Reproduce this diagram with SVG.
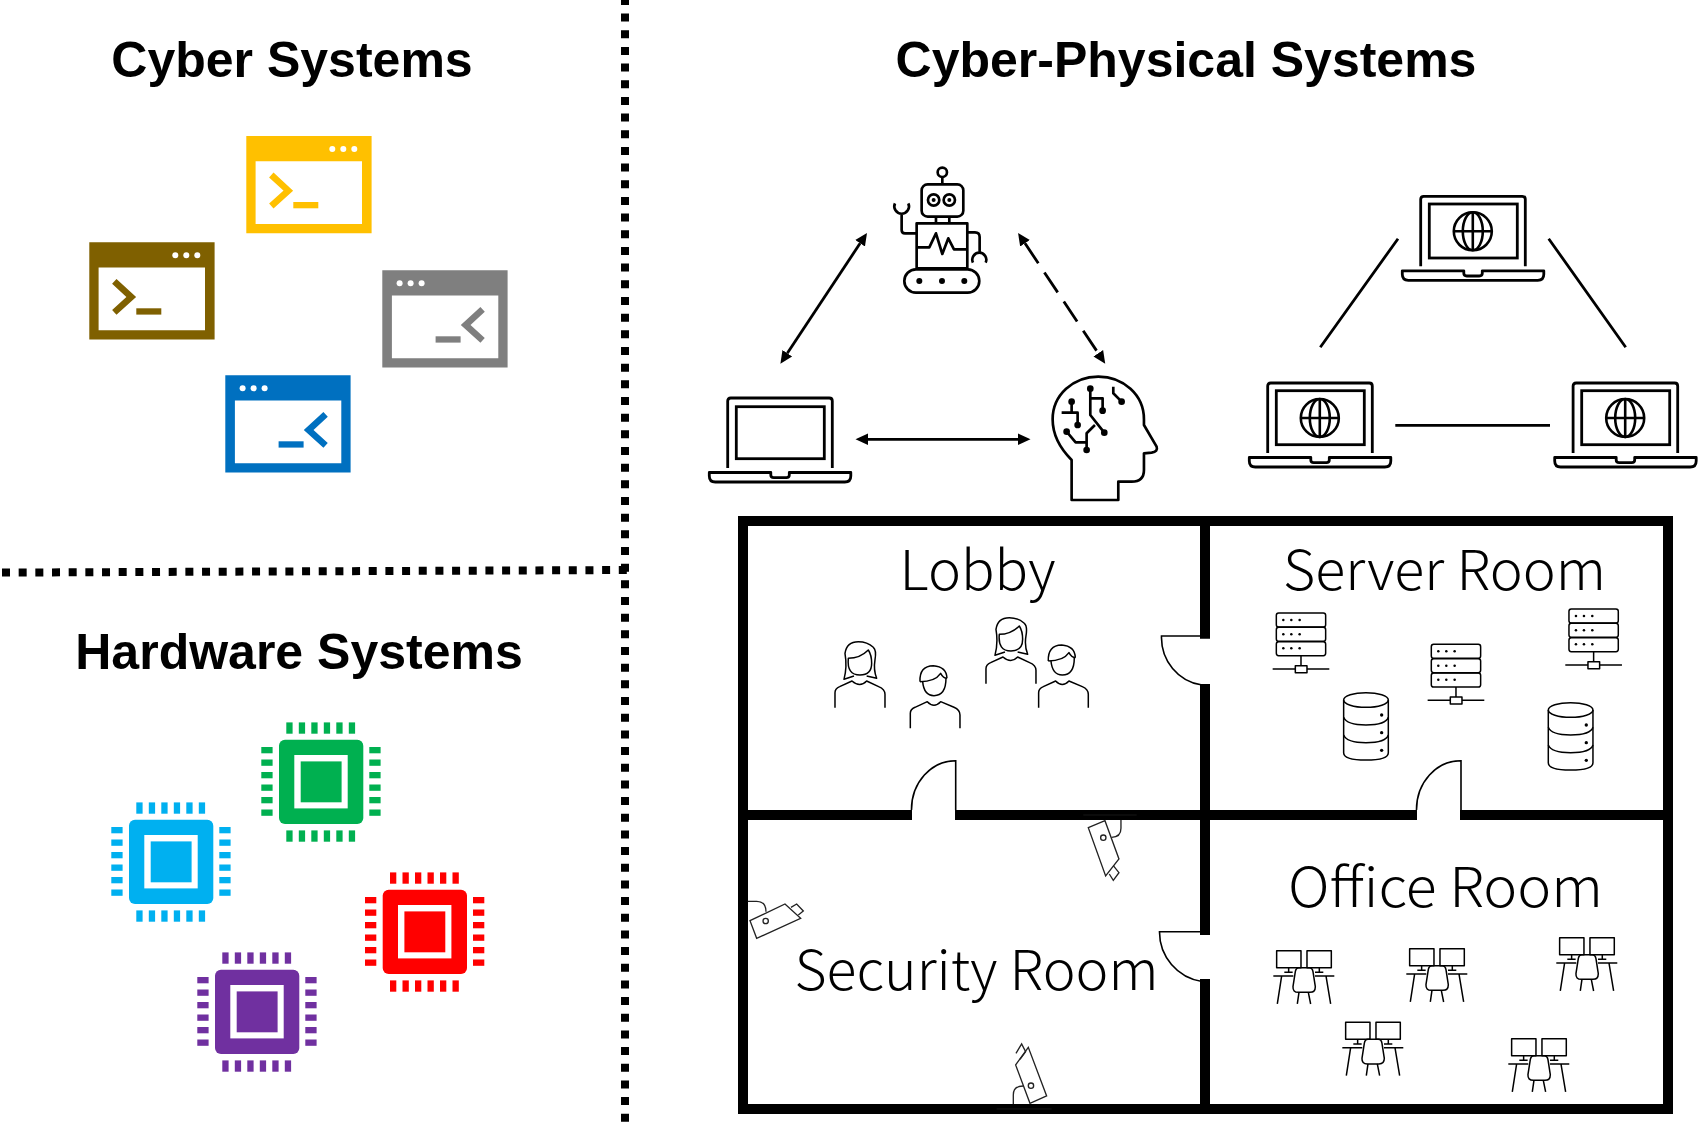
<svg xmlns="http://www.w3.org/2000/svg" xmlns:xlink="http://www.w3.org/1999/xlink" width="1700" height="1126" viewBox="0 0 1700 1126">
<style>
.title{font-family:"Liberation Sans",Arial,sans-serif;font-weight:700;font-size:50px;fill:#000}
.room{font-family:"Noto Sans CJK SC","Noto Sans",sans-serif;font-weight:300;font-size:55px;fill:#000}
.dot{fill:none;stroke:#000;stroke-width:8;stroke-dasharray:8 8.67}
.wall{fill:none;stroke:#000;stroke-width:10}
.door{fill:none;stroke:#000;stroke-width:1.6}
.ico{fill:none;stroke:#000;stroke-width:8;stroke-linejoin:round}
.thin{fill:none;stroke:#000;stroke-width:4.5;stroke-linejoin:round}
.cam{fill:none;stroke:#222;stroke-width:4;stroke-linejoin:miter}
.wl{stroke:#222;stroke-width:2;fill:none}
.f{fill:#000;stroke:none}
.con{fill:none;stroke:#000;stroke-width:2.8}
</style>
<defs>
<marker id="ah" markerUnits="userSpaceOnUse" markerWidth="14" markerHeight="14" refX="0" refY="7" orient="auto-start-reverse"><path d="M0 1.2L12.5 7L0 12.8z" fill="#000"/></marker>
<g id="term"><path fill-rule="evenodd" d="M0 0H125.3V97.3H0zM9.3 25.3V88H115.7V25.3z"/>
<circle cx="86" cy="13" r="3" fill="#fff"/><circle cx="97" cy="13" r="3" fill="#fff"/><circle cx="108" cy="13" r="3" fill="#fff"/>
<path d="M25 39L42 54.7L25 70" fill="none" stroke="currentColor" stroke-width="6.5"/><rect x="47" y="66" width="25" height="6.3"/></g>
<g id="chip"><rect width="84.3" height="84.3" rx="6"/><rect x="15.3" y="15.3" width="53.4" height="53.4" fill="#fff"/><rect x="21.7" y="21.7" width="40.9" height="40.9"/>
<g id="pt"><rect x="7.3" y="-17.3" width="6.3" height="11.3"/><rect x="19.8" y="-17.3" width="6.3" height="11.3"/><rect x="32.3" y="-17.3" width="6.3" height="11.3"/><rect x="44.8" y="-17.3" width="6.3" height="11.3"/><rect x="57.3" y="-17.3" width="6.3" height="11.3"/><rect x="69.8" y="-17.3" width="6.3" height="11.3"/></g>
<use xlink:href="#pt" href="#pt" y="108"/>
<use xlink:href="#pt" href="#pt" transform="rotate(90 42.15 42.15)"/><use xlink:href="#pt" href="#pt" y="108" transform="rotate(90 42.15 42.15)"/></g>
<g id="lapbase" class="ico" style="stroke-width:2.8"><path d="M19.4 71V4Q19.4 1 22.4 1H121Q124 1 124 4V71"/><path d="M1 75.5H62.5V78Q62.5 80.7 65.5 80.7H78Q81 80.7 81 78V75.5H142.5V79Q142.5 85 136.5 85H7Q1 85 1 79z"/></g>
<g id="laptop"><use xlink:href="#lapbase" href="#lapbase"/><rect x="28" y="9.7" width="88" height="52" fill="none" stroke="#000" stroke-width="2.8"/></g>
<g id="weblap"><use xlink:href="#lapbase" href="#lapbase" transform="translate(0 1)"/><rect x="28" y="9.7" width="88" height="54" fill="none" stroke="#000" stroke-width="2.8"/>
<g fill="none" stroke="#000" stroke-width="2.6"><circle cx="71.5" cy="37" r="19"/><ellipse cx="71.5" cy="37" rx="10" ry="19"/><path d="M71.5 18V56M52.5 37H90.5"/></g></g>
<g id="man" class="thin"><path d="M541 655V610Q541 598 555 592L592 575Q612 596 632 575L672 592Q690 600 690 615V655"/><path d="M570 515Q568 468 610 467Q650 470 651 505"/><path d="M570 515Q615 515 632 490Q640 505 651 505"/><path d="M578 515Q582 557 612 557Q648 557 648 505"/></g>
<g id="woman" class="thin"><path d="M315 593V548Q315 536 329 530L366 513Q390 534 410 513L446 530Q465 538 465 553V593"/><path d="M355 445Q390 445 415 420Q425 435 425 460Q425 495 390 495Q350 495 355 445z"/><path d="M372 498L342 508Q352 470 345 430Q350 395 385 395Q412 395 430 412Q440 420 435 450Q430 480 440 505L410 498"/></g>
<g id="srv" class="thin"><rect x="259" y="309" width="148" height="42" rx="7"/><rect x="259" y="352" width="148" height="42" rx="7"/><rect x="259" y="395" width="148" height="42" rx="7"/><path d="M333 437V467M248 477H316M351 477H418"/><rect x="316" y="467" width="35" height="21"/>
<g class="f"><circle cx="280" cy="330" r="3.8"/><circle cx="304" cy="330" r="3.8"/><circle cx="329" cy="330" r="3.8"/><circle cx="280" cy="373" r="3.8"/><circle cx="304" cy="373" r="3.8"/><circle cx="329" cy="373" r="3.8"/><circle cx="280" cy="415" r="3.8"/><circle cx="304" cy="415" r="3.8"/><circle cx="329" cy="415" r="3.8"/></g></g>
<g id="db" class="thin"><ellipse cx="528" cy="570" rx="67" ry="22"/><path d="M461 570V728Q461 750 528 750Q595 750 595 728V570"/><path d="M461 622Q470 645 528 645Q588 645 595 622M461 675Q470 698 528 698Q588 698 595 675"/><g class="f"><circle cx="575" cy="615" r="5"/><circle cx="575" cy="668" r="5"/><circle cx="575" cy="721" r="5"/></g></g>
<g id="desk" class="thin"><rect x="260" y="452" width="73" height="51"/><rect x="351" y="452" width="73" height="51"/><path d="M296 503V517M283 517H308M388 503V517M375 517H400M250 528H310M375 528H433M275 528L262 612M408 528L422 612M327 577L322 612M355 577L362 612"/><path d="M327 503H358Q367 503 369 515L376 560Q376 577 360 577H325Q308 577 309 560L316 515Q318 503 327 503z"/></g>
</defs>
<g id="titles"><text id="t-cyber" class="title" x="292" y="77" text-anchor="middle">Cyber Systems</text><text id="t-cps" class="title" x="1186" y="77" text-anchor="middle">Cyber-Physical Systems</text><text id="t-hw" class="title" x="299" y="669" text-anchor="middle">Hardware Systems</text></g>
<g id="dividers"><path class="dot" d="M625 -3.1V1122"/><path class="dot" d="M2 572.6L628 570"/></g>
<g id="term-yellow" fill="#FFC000" color="#FFC000" transform="translate(246.3 136)"><use xlink:href="#term" href="#term"/></g>
<g id="term-brown" fill="#7F6000" color="#7F6000" transform="translate(89.3 242.3)"><use xlink:href="#term" href="#term"/></g>
<g id="term-gray" fill="#7F7F7F" color="#7F7F7F" transform="translate(507.6 270.3) scale(-1 1)"><use xlink:href="#term" href="#term"/></g>
<g id="term-blue" fill="#0070C0" color="#0070C0" transform="translate(350.6 375.3) scale(-1 1)"><use xlink:href="#term" href="#term"/></g>
<g id="chip-green" fill="#00B050" transform="translate(279 739.7)"><use xlink:href="#chip" href="#chip"/></g>
<g id="chip-blue" fill="#00B0F0" transform="translate(129 819.7)"><use xlink:href="#chip" href="#chip"/></g>
<g id="chip-red" fill="#FF0000" transform="translate(382.7 889.7)"><use xlink:href="#chip" href="#chip"/></g>
<g id="chip-purple" fill="#7030A0" transform="translate(215 969.7)"><use xlink:href="#chip" href="#chip"/></g>
<g id="robot" transform="translate(690 150) scale(.3333)" class="ico"><circle cx="757" cy="67" r="14"/><path d="M757 81V103"/><rect x="695" y="103" width="125" height="97" rx="18"/><circle cx="731" cy="150" r="17"/><circle cx="778" cy="150" r="17"/><circle class="f" cx="731" cy="150" r="6"/><circle class="f" cx="778" cy="150" r="6"/><path d="M738 200V220M778 200V220"/><rect x="680" y="220" width="152" height="135"/><path d="M680 292H718L738 250L757 312L775 265L792 298H832"/><path d="M680 250H645Q635 250 635 240V192M615 160A22 22 0 1 0 655 160"/><path d="M832 247H855Q869 247 869 261V305M849 338A21 21 0 1 1 887 338"/><rect x="643" y="358" width="225" height="70" rx="35"/><circle class="f" cx="688" cy="393" r="9"/><circle class="f" cx="756" cy="393" r="9"/><circle class="f" cx="823" cy="393" r="9"/></g>
<g id="laptop-plain" transform="translate(708.3 397)"><use xlink:href="#laptop" href="#laptop"/></g>
<g id="brain" transform="translate(690 150) scale(.3333)" class="ico"><path d="M1145 1050V930C1110 895 1088 855 1088 808C1088 735 1150 680 1225 680C1300 680 1362 735 1362 808V825L1400 890Q1405 905 1385 908L1362 910V960Q1362 995 1325 995H1285V1050z"/><path d="M1201 716V795L1243 848M1201 745H1238V782M1270 710V730L1295 755M1145 755V785M1115 788H1163V825M1130 845L1157 877H1190V900M1190 877V850L1215 825"/><g class="f"><circle cx="1201" cy="716" r="10"/><circle cx="1243" cy="848" r="10"/><circle cx="1238" cy="782" r="10"/><circle cx="1295" cy="755" r="10"/><circle cx="1145" cy="755" r="10"/><circle cx="1163" cy="825" r="10"/><circle cx="1130" cy="845" r="10"/><circle cx="1190" cy="900" r="10"/></g></g>
<g id="web-top" transform="translate(1401.3 194.3)"><use xlink:href="#weblap" href="#weblap"/></g>
<g id="web-left" transform="translate(1248.3 381)"><use xlink:href="#weblap" href="#weblap"/></g>
<g id="web-right" transform="translate(1553.7 381)"><use xlink:href="#weblap" href="#weblap"/></g>
<g id="connectors">
<path class="con" d="M860.1 243.3L787.3 353.3" marker-start="url(#ah)" marker-end="url(#ah)"/>
<path class="con" d="M1025 243.3L1098.3 353.3" stroke-dasharray="24 11" marker-start="url(#ah)" marker-end="url(#ah)"/>
<path class="con" d="M868 439.3H1018" marker-start="url(#ah)" marker-end="url(#ah)"/>
<path class="con" d="M1398 238.7L1320.3 347.3M1548.7 238.7L1625.7 347.3M1395.3 425.3H1550"/>
</g>
<g id="floorplan">
<rect class="wall" x="743" y="521" width="925" height="588"/>
<path class="wall" d="M1205 516V638.7M1205 684V935M1205 979V1104M748 815H912M955 815H1417M1460 815H1663"/>
<path class="door" d="M1205 636H1161.5A47 48 0 0 0 1202 685M1205 931.7H1159.5A50 50 0 0 0 1202 981.5M955.7 810V760.7A44 49 0 0 0 911.5 810M1461 810V760.7A44 49 0 0 0 1416.5 810"/>
</g>
<g id="room-lobby"><text class="room" x="899.5" y="590" textLength="156" lengthAdjust="spacingAndGlyphs">Lobby</text>
<g transform="translate(730 510) scale(.3333)"><use xlink:href="#woman" href="#woman"/><use xlink:href="#man" href="#man"/><use xlink:href="#woman" href="#woman" x="453" y="-72"/><use xlink:href="#man" href="#man" x="385" y="-62"/></g></g>
<g id="room-server"><text class="room" x="1283" y="590" textLength="323" lengthAdjust="spacingAndGlyphs">Server Room</text>
<g transform="translate(1190 510) scale(.3333)"><use xlink:href="#srv" href="#srv"/><use xlink:href="#srv" href="#srv" x="465" y="94"/><use xlink:href="#srv" href="#srv" x="878" y="-12"/><use xlink:href="#db" href="#db"/><use xlink:href="#db" href="#db" x="614" y="30"/></g></g>
<g id="room-security"><text class="room" x="794.5" y="990" textLength="364" lengthAdjust="spacingAndGlyphs">Security Room</text>
<g transform="translate(730 800) scale(.3333)"><path class="wl" d="M1060 45H1220M800 927H965"/>
<g class="cam"><path d="M1075 83L1125 62L1167 177L1127 228z"/><path d="M1150 197L1167 218L1150 241L1138 222"/><circle cx="1120" cy="113" r="8"/><path d="M1173 60V85Q1173 112 1145 112"/>
<path d="M60 362L165 312L212 355L80 415z"/><path d="M183 322L200 312L220 333L205 345"/><circle cx="107" cy="363" r="8"/><path d="M53 304H80Q108 304 108 335"/>
<path d="M857 795L895 742L950 888L900 910z"/><path d="M858 760L875 732L887 755L870 778"/><circle cx="903" cy="857" r="8"/><path d="M850 912V885Q850 858 880 858"/></g></g></g>
<g id="room-office"><text class="room" x="1288" y="907.3" textLength="315" lengthAdjust="spacingAndGlyphs">Office Room</text>
<g transform="translate(1190 800) scale(.3333)"><use xlink:href="#desk" href="#desk"/><use xlink:href="#desk" href="#desk" x="399" y="-6"/><use xlink:href="#desk" href="#desk" x="849" y="-39"/><use xlink:href="#desk" href="#desk" x="207" y="215"/><use xlink:href="#desk" href="#desk" x="705" y="264"/></g></g>
</svg>
